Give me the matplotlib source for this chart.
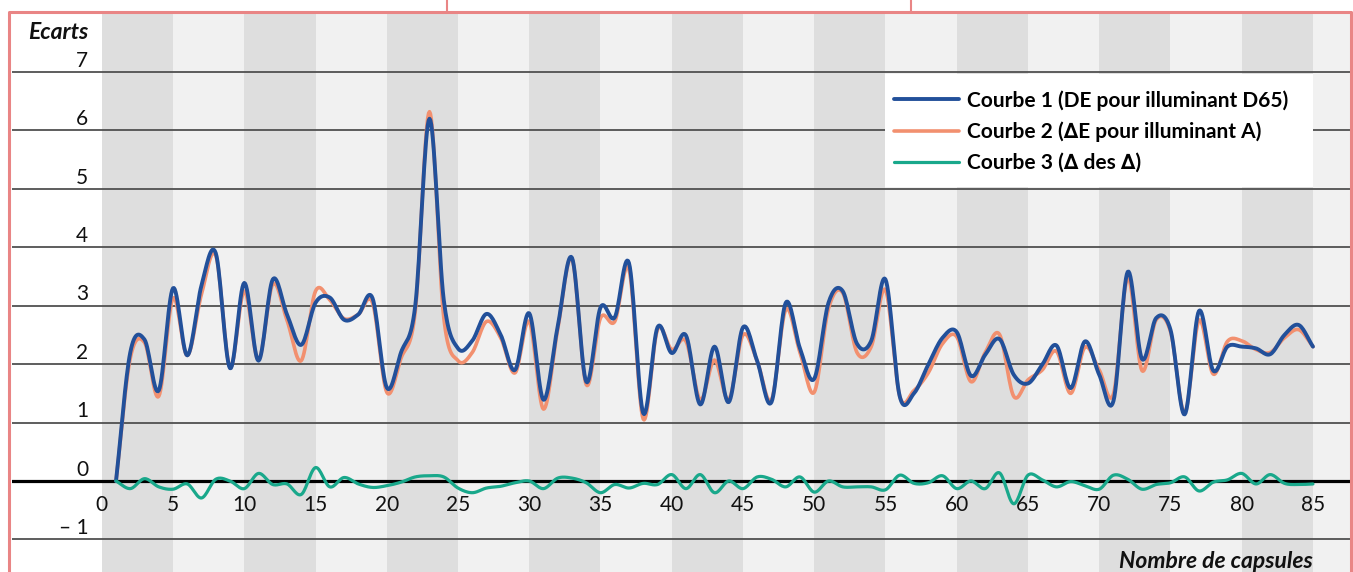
import numpy as np
import matplotlib
matplotlib.use('Agg')
import matplotlib.pyplot as plt
from matplotlib.patches import Rectangle
from matplotlib.lines import Line2D

# capsule number (x) and colour differences
capsules = list(range(1, 86))

courbe1 = [0.00, 2.20, 2.42, 1.55, 3.30, 2.15, 3.35, 3.90, 1.93, 3.39,
           2.06, 3.45, 2.85, 2.33, 3.05, 3.14, 2.76, 2.85, 3.13, 1.60,
           2.20, 3.00, 6.20, 3.10, 2.27, 2.40, 2.86, 2.50, 1.90, 2.87,
           1.39, 2.65, 3.82, 1.70, 2.97, 2.80, 3.73, 1.16, 2.63, 2.19,
           2.49, 1.31, 2.30, 1.35, 2.63, 2.05, 1.35, 3.05, 2.27, 1.75,
           3.05, 3.25, 2.35, 2.40, 3.45, 1.45, 1.50, 1.99, 2.45, 2.55,
           1.80, 2.16, 2.43, 1.82, 1.67, 1.99, 2.32, 1.59, 2.39, 1.82,
           1.37, 3.58, 2.09, 2.79, 2.59, 1.14, 2.91, 1.89, 2.30, 2.30,
           2.27, 2.17, 2.50, 2.67, 2.30]

courbe2 = [0.00, 2.10, 2.37, 1.45, 3.13, 2.15, 3.20, 3.86, 1.95, 3.25,
           2.07, 3.37, 2.75, 2.06, 3.25, 3.10, 2.78, 2.85, 3.05, 1.52,
           2.10, 2.90, 6.32, 2.80, 2.06, 2.20, 2.73, 2.45, 1.85, 2.73,
           1.23, 2.60, 3.80, 1.65, 2.79, 2.73, 3.62, 1.06, 2.59, 2.25,
           2.39, 1.39, 2.07, 1.39, 2.50, 2.05, 1.39, 2.93, 2.20, 1.52,
           2.95, 3.22, 2.20, 2.30, 3.27, 1.45, 1.55, 1.85, 2.35, 2.47,
           1.70, 2.20, 2.51, 1.45, 1.73, 1.90, 2.22, 1.50, 2.29, 1.90,
           1.49, 3.48, 1.89, 2.76, 2.56, 1.17, 2.75, 1.83, 2.39, 2.40,
           2.25, 2.20, 2.45, 2.59, 2.30]

courbe3 = [0.00, -0.13, 0.04, -0.10, -0.14, -0.05, -0.29, 0.03, 0.00, -0.13,
           0.13, -0.06, -0.05, -0.23, 0.23, -0.10, 0.06, -0.05, -0.11, -0.08,
           -0.02, 0.07, 0.09, 0.07, -0.12, -0.20, -0.12, -0.09, -0.03, 0.00,
           -0.13, 0.05, 0.05, -0.03, -0.20, -0.06, -0.12, -0.04, -0.06, 0.11,
           -0.13, 0.11, -0.20, 0.00, -0.13, 0.07, 0.03, -0.10, 0.07, -0.19,
           0.00, -0.10, -0.10, -0.10, -0.15, 0.10, -0.04, -0.03, 0.09, -0.13,
           0.00, -0.13, 0.14, -0.39, 0.10, 0.02, -0.10, -0.01, -0.08, -0.14,
           0.10, 0.03, -0.14, -0.06, -0.03, 0.07, -0.17, -0.02, 0.02, 0.13,
           -0.05, 0.11, -0.04, -0.06, -0.05]

labels = ['Courbe 1 (DE pour illuminant D65)',
          'Courbe 2 (\u2206E pour illuminant A)',
          'Courbe 3 (\u2206 des \u2206)']
xticks = list(range(0, 90, 5))
yticks = [-1, 0, 1, 2, 3, 4, 5, 6, 7]

FONT = ['Lato', 'DejaVu Sans']
BLUE = '#22509a'
ORANGE = '#f2906f'
TEAL = '#19a88b'


# smoothed line through the points (Catmull-Rom, like a spreadsheet "smooth line")
def smooth(xs, ys, n=16):
    x = np.asarray(xs, float)
    y = np.asarray(ys, float)
    xp = np.concatenate([[2 * x[0] - x[1]], x, [2 * x[-1] - x[-2]]])
    yp = np.concatenate([[2 * y[0] - y[1]], y, [2 * y[-1] - y[-2]]])
    t = np.linspace(0, 1, n, endpoint=False)
    ox, oy = [], []
    for i in range(1, len(x)):
        for p, out in ((xp, ox), (yp, oy)):
            p0, p1, p2, p3 = p[i - 1], p[i], p[i + 1], p[i + 2]
            out.extend(0.5 * (2 * p1 + (-p0 + p2) * t
                              + (2 * p0 - 5 * p1 + 4 * p2 - p3) * t ** 2
                              + (-p0 + 3 * p1 - 3 * p2 + p3) * t ** 3))
    ox.append(x[-1])
    oy.append(y[-1])
    return np.array(ox), np.array(oy)


W, H = 1353, 572
fig = plt.figure(figsize=(W / 100, H / 100), dpi=100)
fig.patch.set_facecolor('white')

left, right, top = 12, 1350, 12.5
ax = fig.add_axes([left / W, 0, (right - left) / W, (H - top) / H])
ax.set_xlim(-6.3, 87.6)
ax.set_ylim(-1.557, 8.018)
ax.set_facecolor('white')
for s in ax.spines.values():
    s.set_visible(False)

# alternating vertical bands every 5 capsules
for i, x0 in enumerate(range(0, 90, 5)):
    ax.axvspan(x0, x0 + 5, color='#dedede' if i % 2 == 0 else '#f1f1f1',
               lw=0, zorder=0)

for v in yticks:
    if v == 0:
        ax.axhline(v, color='black', lw=2.3, zorder=3)
    else:
        ax.axhline(v, color='#505050', lw=1.3, zorder=1)
    txt = '\u2013 1' if v < 0 else str(v)
    ax.text(-0.95, v + 0.09, txt, ha='right', va='baseline',
            fontsize=15, family=FONT, color='#111111')

ax.text(-0.95, 7.68, 'Ecarts', ha='right', va='center', fontsize=16.5,
        family=FONT, style='italic', weight='bold', color='#111111')
ax.text(85, -1.38, 'Nombre de capsules', ha='right', va='center',
        fontsize=16.5, family=FONT, style='italic', weight='bold',
        color='#111111')

# x tick labels just under the zero line
ax.spines['bottom'].set_position(('data', 0))
ax.set_xticks(xticks)
ax.set_xticklabels([str(t) for t in xticks], family=FONT, fontsize=15,
                   color='#111111')
ax.tick_params(axis='x', length=0, pad=10)
ax.set_yticks([])

# legend background box
ax.add_patch(Rectangle((55, 5.03), 30, 1.94, facecolor='white',
                       edgecolor='none', zorder=2))

sx, sy = smooth(capsules, courbe2)
l2, = ax.plot(sx, sy, color=ORANGE, lw=2.6, zorder=4, solid_capstyle='round')
sx, sy = smooth(capsules, courbe1)
l1, = ax.plot(sx, sy, color=BLUE, lw=2.8, zorder=5, solid_capstyle='round')
sx, sy = smooth(capsules, courbe3)
l3, = ax.plot(sx, sy, color=TEAL, lw=2.3, zorder=6, solid_capstyle='round')

leg = ax.legend([l1, l2, l3], labels, loc='upper left',
                bbox_to_anchor=(55.6, 6.69), bbox_transform=ax.transData,
                frameon=False, borderpad=0, borderaxespad=0,
                handlelength=3.13, handletextpad=0.38, labelspacing=0.52,
                prop={'family': FONT, 'weight': 'bold', 'size': 15})
leg.set_zorder(7)

# pink frame around the panel
pink = '#e98585'
px = fig.transFigure
fig.add_artist(Line2D([9 / W, 9 / W, 1351 / W, 1351 / W],
                      [0, 1 - 11.5 / H, 1 - 11.5 / H, 0],
                      color=pink, lw=2.2, transform=px))
for xx in (447, 911):
    fig.add_artist(Line2D([xx / W, xx / W], [1, 1 - 11.5 / H],
                          color=pink, lw=1.5, transform=px))

fig.savefig('out.png', dpi=100)
